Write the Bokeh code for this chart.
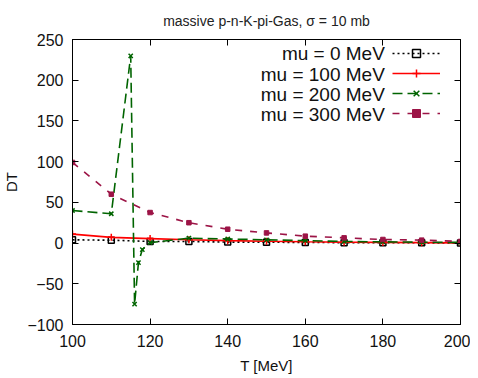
from bokeh.plotting import figure
from bokeh.models import (LinearAxis, FixedTicker, Legend, LegendItem, Label, Range1d)
from bokeh.embed import file_html
from bokeh.resources import INLINE

# ---- data ----
T = [100, 110, 120, 130, 140, 150, 160, 170, 180, 190, 200]
dt_mu0 = [4, 3.5, 2, 2, 1.2, 1, 0.8, 0.5, 0.4, 0.3, 0.2]
dt_mu100 = [11, 7, 5.5, 4, 3, 2.2, 1.6, 1.1, 0.8, 0.5, 0.3]
T_mu200 = [100, 110, 115, 116, 117, 118, 120, 130, 140, 150, 160, 170, 180, 190, 200]
dt_mu200 = [40, 36, 230, -75, -24, -8, 0.5, 6, 5, 4, 3, 2, 1.5, 1, 0.8]
dt_mu300 = [99, 60, 37.5, 25, 17, 12.5, 8.5, 6.4, 4.4, 3.6, 2]

labels = ["mu = 0 MeV", "mu = 100 MeV", "mu = 200 MeV", "mu = 300 MeV"]
x_ticks = [100, 120, 140, 160, 180, 200]
y_ticks = [-100, -50, 0, 50, 100, 150, 200, 250]
title_text = "massive p-n-K-pi-Gas, \u03c3 = 10 mb"

FONT = "Liberation Sans"
C0, C1, C2, C3 = "#000000", "#ff0000", "#006400", "#9c1446"

p = figure(frame_width=388, frame_height=285, output_backend="svg", toolbar_location=None,
           x_range=Range1d(100, 200), y_range=Range1d(-100, 250),
           min_border_left=64, min_border_right=10, min_border_top=32, min_border_bottom=45,
           min_border=0)
p.grid.visible = False
p.outline_line_color = "black"
p.outline_line_width = 1
p.background_fill_color = "white"
p.border_fill_color = "white"

p.title.text = title_text
p.title.align = "center"
p.title.text_font = FONT
p.title.text_font_size = "14px"
p.title.text_font_style = "normal"
p.title.text_color = "#222222"
p.title.standoff = 21

def style_axis(ax):
    ax.major_tick_in = 6
    ax.major_tick_out = 0
    ax.minor_tick_line_color = None
    ax.axis_line_color = "black"
    ax.major_tick_line_color = "black"
    ax.major_label_text_font = FONT
    ax.major_label_text_font_size = "16px"
    ax.major_label_text_color = "#111111"

xa = p.xaxis[0]
ya = p.yaxis[0]
xa.ticker = FixedTicker(ticks=x_ticks)
ya.ticker = FixedTicker(ticks=y_ticks)
style_axis(xa)
style_axis(ya)
xa.major_label_standoff = 10
ya.major_label_standoff = 9
xa.axis_label = "T [MeV]"
ya.axis_label = "DT"
for ax in (xa, ya):
    ax.axis_label_text_font = FONT
    ax.axis_label_text_font_size = "15px"
    ax.axis_label_text_font_style = "normal"
    ax.axis_label_text_color = "#111111"
xa.axis_label_standoff = 7
ya.axis_label_standoff = 4

# mirrored ticks on top and right (no labels)
top = LinearAxis(ticker=FixedTicker(ticks=x_ticks))
right = LinearAxis(ticker=FixedTicker(ticks=y_ticks))
for ax, ticks in ((top, x_ticks), (right, y_ticks)):
    style_axis(ax)
    ax.major_label_overrides = {t: "" for t in ticks}
    ax.major_label_standoff = 0
p.add_layout(top, "above")
p.add_layout(right, "right")

# ---- series ----
r0l = p.line(T, dt_mu0, line_color=C0, line_width=1.6, line_dash="2 3")
r0m = p.scatter(T, dt_mu0, marker="square", size=6, fill_color=None, line_color=C0, line_width=1.5)
r1l = p.line(T, dt_mu100, line_color=C1, line_width=1.6)
r1m = p.scatter(T, dt_mu100, marker="cross", size=7, line_color=C1, line_width=1.5)
r2l = p.line(T_mu200, dt_mu200, line_color=C2, line_width=1.6, line_dash="10 5")
r2m = p.scatter(T_mu200, dt_mu200, marker="x", size=6, line_color=C2, line_width=1.5)
r3l = p.line(T, dt_mu300, line_color=C3, line_width=1.6, line_dash="7 8")
r3m = p.scatter(T, dt_mu300, marker="square", size=4.5, fill_color=C3, line_color=C3, line_width=1)

# ---- gnuplot-style key: text right-aligned, sample on the right ----
items = [LegendItem(label=" ", renderers=[l, m]) for l, m in
         [(r0l, r0m), (r1l, r1m), (r2l, r2m), (r3l, r3m)]]
leg = Legend(items=items, location=(320, 201), orientation="vertical",
             glyph_width=48, glyph_height=20, label_height=20, label_width=1,
             label_standoff=0, spacing=0, padding=0, margin=0,
             background_fill_alpha=0, border_line_alpha=0,
             label_text_font_size="1px")
p.add_layout(leg, "center")

row_y = [233, 207.5, 182.5, 158]
for lab, yy in zip(labels, row_y):
    p.add_layout(Label(x=180.5, y=yy, text=lab, text_align="right", text_baseline="middle",
                       text_font=FONT, text_font_size="19px", text_color="#111111"))

open("out.html", "w").write(file_html(p, INLINE))
